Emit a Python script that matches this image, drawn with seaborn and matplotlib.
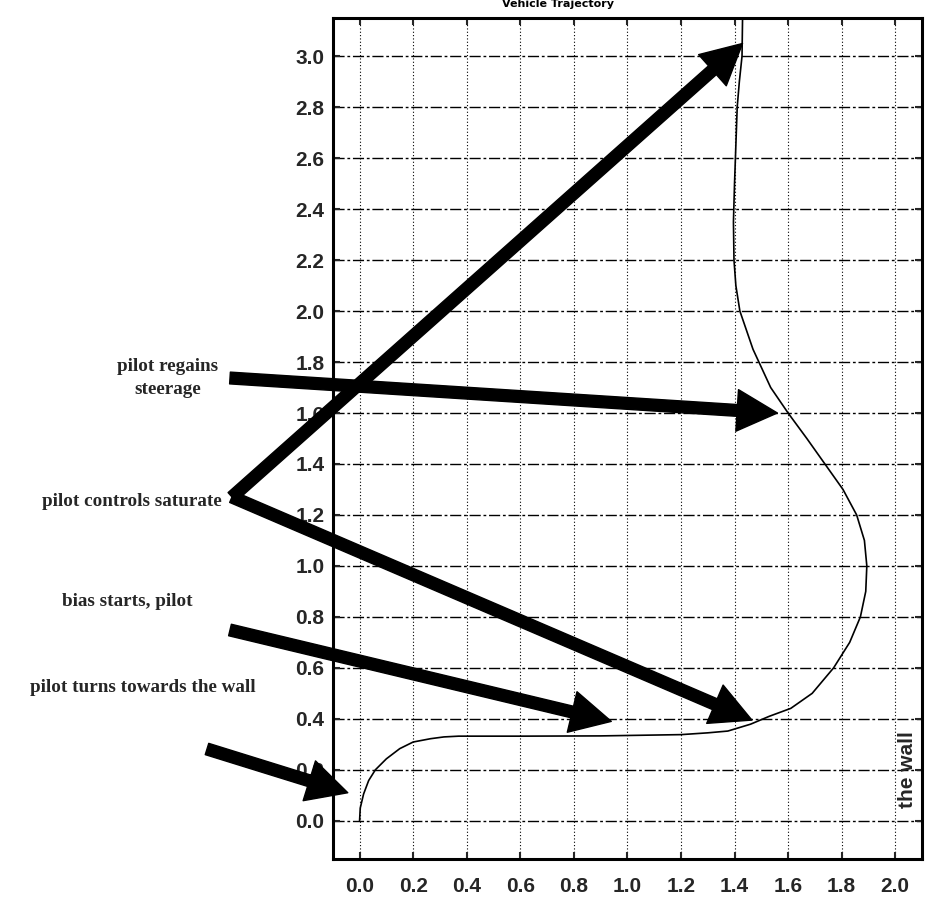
import matplotlib
matplotlib.use("Agg")
import matplotlib.pyplot as plt
import seaborn as sns
import pandas as pd

# trajectory
traj_x = [0.0, 0.0025, 0.015, 0.034, 0.059, 0.10, 0.15, 0.20, 0.265, 0.315, 0.37,
          0.6, 0.9, 1.2, 1.30, 1.375, 1.46, 1.53, 1.61, 1.69, 1.77, 1.83, 1.87,
          1.89, 1.894, 1.885, 1.856, 1.805, 1.7375, 1.67, 1.60, 1.535, 1.469,
          1.42, 1.405, 1.398, 1.396, 1.40, 1.405, 1.41, 1.418, 1.428, 1.43]
traj_y = [0.0, 0.05, 0.105, 0.158, 0.2, 0.243, 0.283, 0.309, 0.322, 0.329, 0.332,
          0.332, 0.333, 0.338, 0.345, 0.352, 0.379, 0.41, 0.441, 0.50, 0.60, 0.70,
          0.80, 0.90, 1.0, 1.10, 1.2, 1.3, 1.4, 1.5, 1.6, 1.7, 1.85, 2.0, 2.1,
          2.2, 2.35, 2.5, 2.65, 2.8, 2.9, 3.0, 3.15]

x_ticks = [0.0, 0.2, 0.4, 0.6, 0.8, 1.0, 1.2, 1.4, 1.6, 1.8, 2.0]
y_ticks = [0.0, 0.2, 0.4, 0.6, 0.8, 1.0, 1.2, 1.4, 1.6, 1.8, 2.0, 2.2, 2.4, 2.6, 2.8, 3.0]

# annotations: label, arrow tips (data), text position / arrow tails (figure px)
notes = ["pilot regains\nsteerage", "pilot controls saturate",
         "bias starts, pilot", "pilot turns towards the wall"]
note_pos = [(168, 521), (132, 397), (127, 298), (143, 212)]
tips_x = [1.56, 1.43, 1.465, 0.94, -0.044]
tips_y = [1.60, 3.05, 0.395, 0.39, 0.11]
tails = [(230, 521), (232, 402), (232, 402), (230, 269), (207, 150)]

traj = pd.DataFrame({"x": traj_x, "y": traj_y})

sns.set_style("white")
fig = plt.figure(figsize=(9.27, 8.99), dpi=100)
ax = fig.add_axes([0.359, 0.0445, 0.6356, 0.9355])

sns.lineplot(data=traj, x="x", y="y", sort=False, estimator=None,
             color="black", lw=1.2, ax=ax)

ax.set_xlim(-0.1, 2.1)
ax.set_ylim(-0.15, 3.15)
ax.set_xticks(x_ticks)
ax.set_yticks(y_ticks)
ax.set_xticklabels([f"{v:.1f}" for v in x_ticks])
ax.set_yticklabels([f"{v:.1f}" for v in y_ticks])
ax.set_xlabel("")
ax.set_ylabel("")

tick_font = ["Liberation Sans Narrow", "Liberation Sans", "DejaVu Sans"]
for lab in ax.get_xticklabels() + ax.get_yticklabels():
    lab.set_family(tick_font)
    lab.set_fontweight("bold")
    lab.set_fontsize(15)
ax.tick_params(axis="both", direction="in", length=5, width=1.5,
               top=True, right=True, bottom=True, left=True)
ax.tick_params(axis="x", pad=13)
ax.tick_params(axis="y", pad=6)

for x in x_ticks:
    ax.axvline(x, color="black", lw=0.8, ls=(0, (1, 2)), zorder=0)
for y in y_ticks:
    ax.axhline(y, color="black", lw=1.0, ls=(0, (8, 2, 2, 2)), zorder=0)

for s in ax.spines.values():
    s.set_linewidth(2.2)
    s.set_color("black")

ax.text(2.045, 0.2, "the wall", rotation=90, ha="center", va="center",
        fontsize=15, fontweight="bold", family=tick_font)

fig.text(558 / 927, 1 - 4 / 899, "Vehicle Trajectory", ha="center", va="center",
         fontsize=8, fontweight="bold", color="black")

serif = ["Liberation Serif", "DejaVu Serif"]
for label, (px, py) in zip(notes, note_pos):
    fig.text(px / 927, py / 899, label, ha="center", va="center",
             fontsize=13.8, fontweight="bold", family=serif, linespacing=1.4)

arrow = dict(width=8.5, headwidth=30, headlength=29, facecolor="black",
             edgecolor="black", shrink=0)
for (tx, ty), xt, yt in zip(tails, tips_x, tips_y):
    ax.annotate("", xy=(xt, yt), xycoords="data",
                xytext=(tx, ty), textcoords="figure pixels",
                arrowprops=arrow, annotation_clip=False)

fig.savefig("out.png", dpi=100)
